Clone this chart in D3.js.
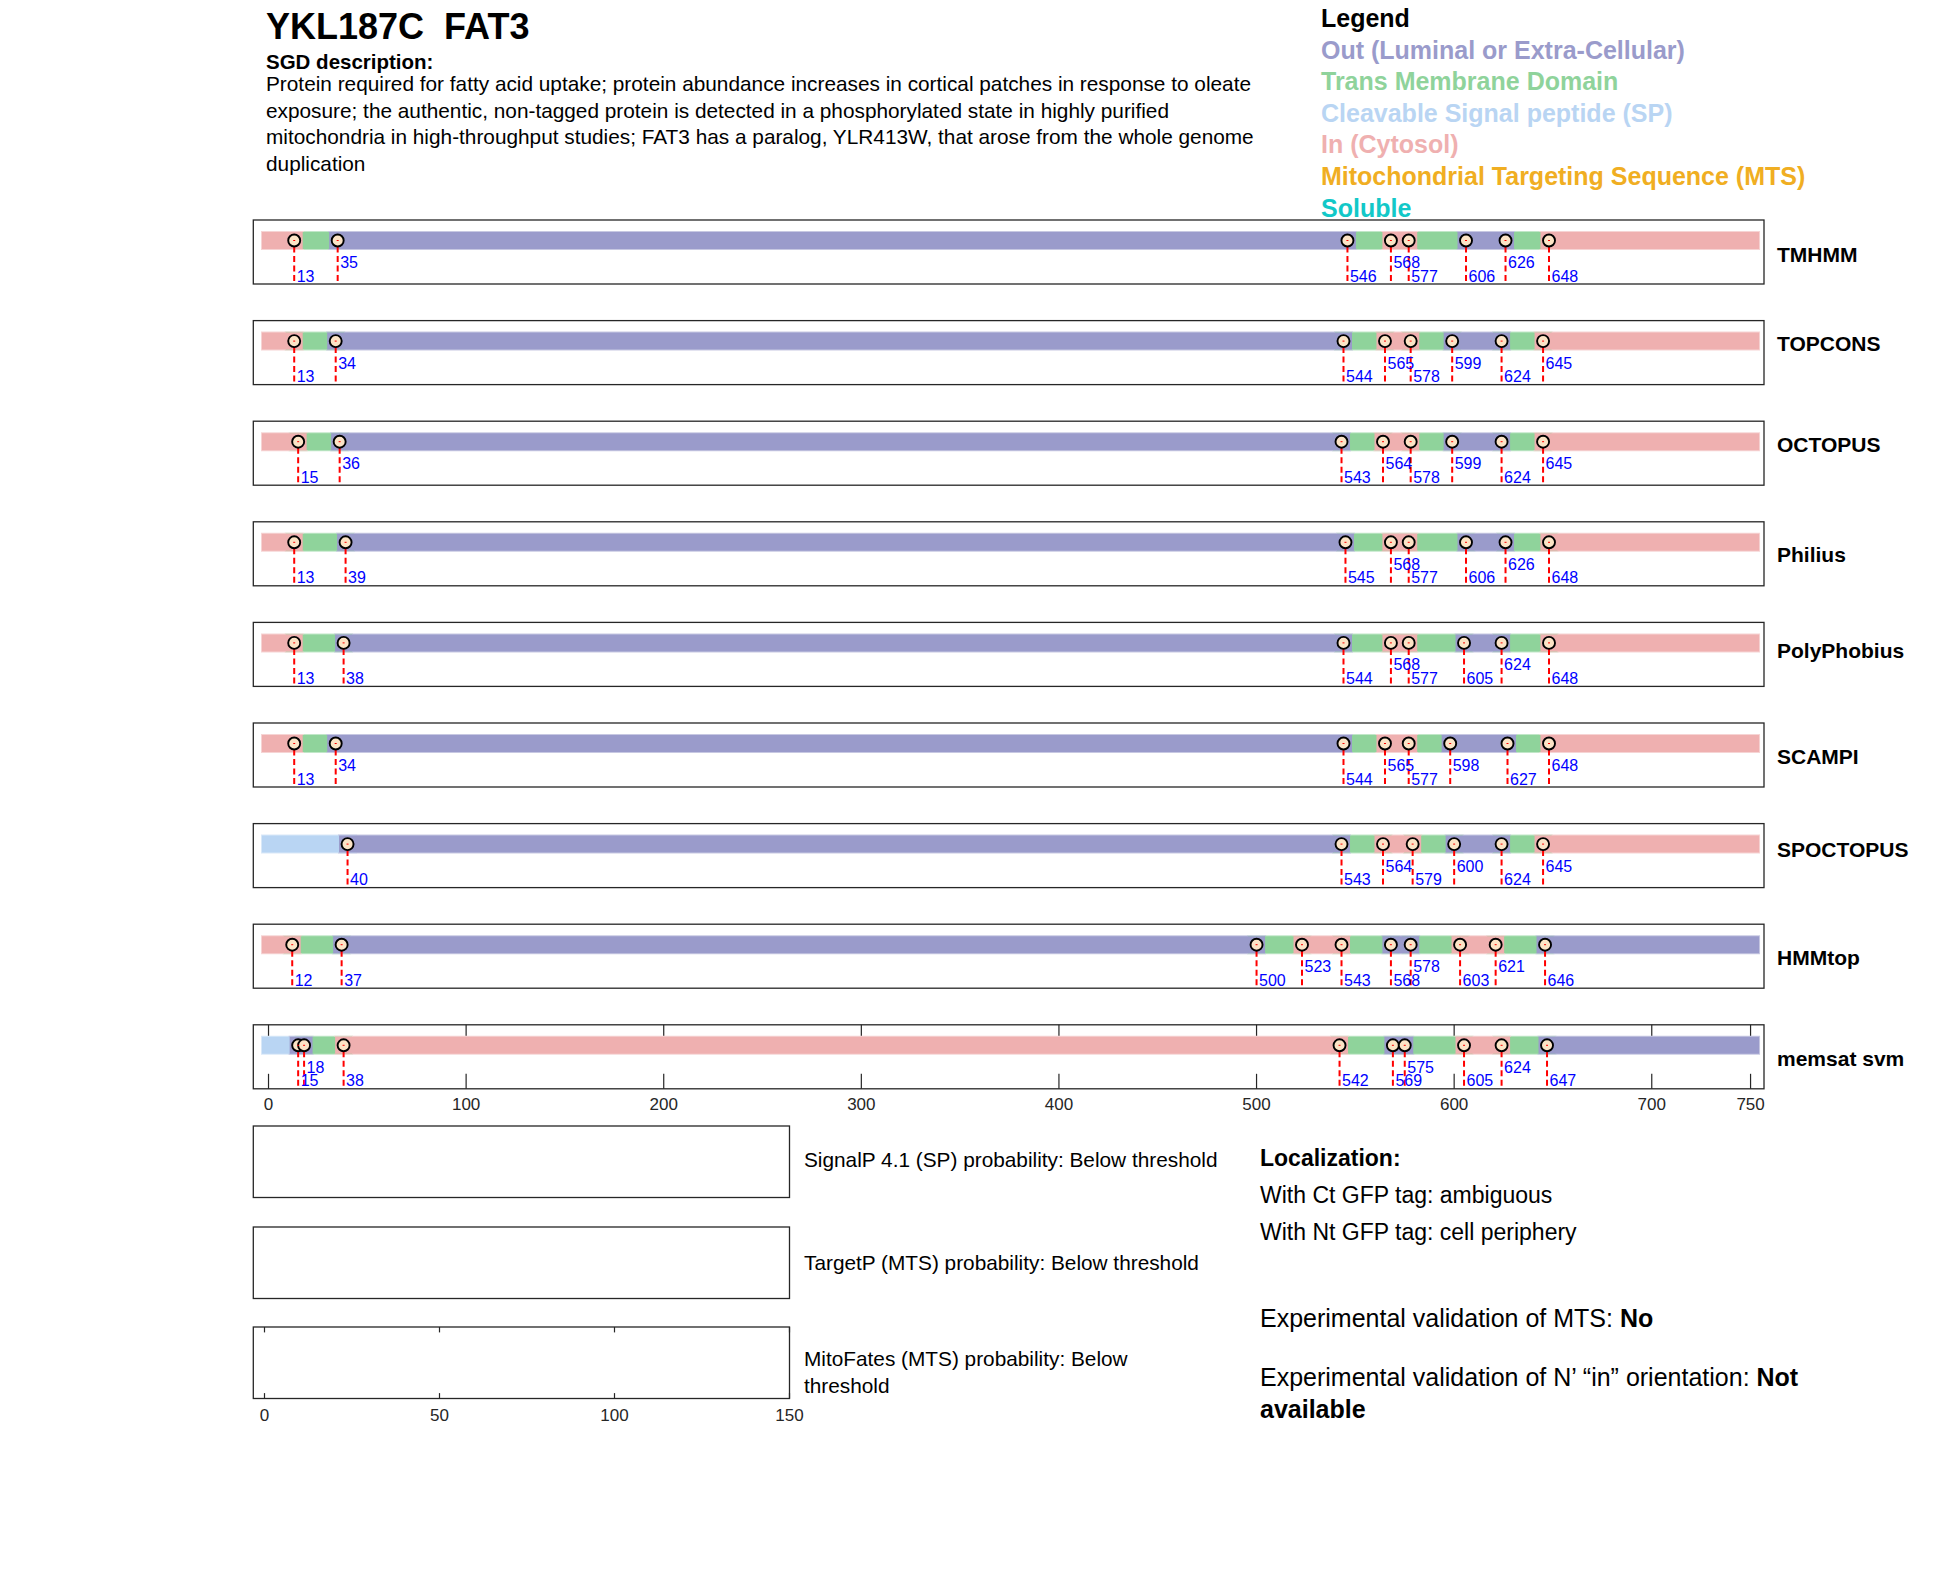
<!DOCTYPE html>
<html>
<head>
<meta charset="utf-8">
<script src="https://d3js.org/d3.v7.min.js"></script>
<style>
body { margin: 0; background: #fff; }
svg text { font-family: "Liberation Sans", Arial, sans-serif; }
.title { font-size: 36px; font-weight: bold; }
.sub { font-size: 20.5px; font-weight: bold; }
.desc { font-size: 20.8px; }
.legend { font-size: 25px; font-weight: bold; }
.track { font-size: 21px; font-weight: bold; }
.pos { font-size: 16px; fill: #0000ff; }
.tick { font-size: 17px; fill: #262626; }
.note { font-size: 20.8px; }
.loc { font-size: 23px; }
.exp { font-size: 25px; }
</style>
</head>
<body>
<div id="chart"></div>
<script>
// ---- data ----
var geneTitle = "YKL187C  FAT3";
var descLines = [
  "Protein required for fatty acid uptake; protein abundance increases in cortical patches in response to oleate",
  "exposure; the authentic, non-tagged protein is detected in a phosphorylated state in highly purified",
  "mitochondria in high-throughput studies; FAT3 has a paralog, YLR413W, that arose from the whole genome",
  "duplication"
];
var legendNames = ["Out (Luminal or Extra-Cellular)", "Trans Membrane Domain", "Cleavable Signal peptide (SP)",
                   "In (Cytosol)", "Mitochondrial Targeting Sequence (MTS)", "Soluble"];
var legendKeys = ["out", "tm", "sp", "in", "mts", "sol"];

var proteinLength = 750;
var trackNames = ["TMHMM", "TOPCONS", "OCTOPUS", "Philius", "PolyPhobius", "SCAMPI", "SPOCTOPUS", "HMMtop", "memsat svm"];

var tmhmmPos   = [13, 35, 546, 568, 577, 606, 626, 648];
var topconsPos = [13, 34, 544, 565, 578, 599, 624, 645];
var octopusPos = [15, 36, 543, 564, 578, 599, 624, 645];
var philiusPos = [13, 39, 545, 568, 577, 606, 626, 648];
var polyPos    = [13, 38, 544, 568, 577, 605, 624, 648];
var scampiPos  = [13, 34, 544, 565, 577, 598, 627, 648];
var spoctoPos  = [40, 543, 564, 579, 600, 624, 645];
var hmmtopPos  = [12, 37, 500, 523, 543, 568, 578, 603, 621, 646];
var memsatPos  = [15, 18, 38, 542, 569, 575, 605, 624, 647];

var topo8      = ["in", "tm", "out", "tm", "in", "tm", "out", "tm", "in"];
var spoctoTopo = ["sp", "out", "tm", "in", "tm", "out", "tm", "in"];
var hmmtopTopo = ["in", "tm", "out", "tm", "in", "tm", "out", "tm", "in", "tm", "out"];
var memsatTopo = ["sp", "out", "tm", "in", "tm", "out", "tm", "in", "tm", "out"];

var trackPos  = [tmhmmPos, topconsPos, octopusPos, philiusPos, polyPos, scampiPos, spoctoPos, hmmtopPos, memsatPos];
var trackTopo = [topo8, topo8, topo8, topo8, topo8, topo8, spoctoTopo, hmmtopTopo, memsatTopo];

var axisTicks = [0, 100, 200, 300, 400, 500, 600, 700, 750];
var probTicks = [0, 50, 100, 150];
var probNotes = [["SignalP 4.1 (SP) probability: Below threshold"],
                 ["TargetP (MTS) probability: Below threshold"],
                 ["MitoFates (MTS) probability: Below", "threshold"]];

var colors = { out: "#9a9bcb", tm: "#8fd39b", sp: "#b9d5f3", "in": "#efb0b0", mts: "#f0ae22", sol: "#12c8c8" };

// vertical nudge of the method names, as they sit in the picture
var nameShift = [0, -11, -11, -1, -6, -1, -8, -1, 0];

// ---- drawing ----
var svg = d3.select("#chart").append("svg")
    .attr("width", 1950).attr("height", 1573);

svg.append("text").attr("class", "title").attr("x", 266).attr("y", 39)
   .attr("xml:space", "preserve").text(geneTitle);
svg.append("text").attr("class", "sub").attr("x", 266).attr("y", 69).text("SGD description:");
svg.selectAll("text.desc").data(descLines).enter().append("text")
   .attr("class", "desc").attr("x", 266)
   .attr("y", function(d, i) { return 91 + i * 26.7; })
   .text(function(d) { return d; });

// legend
svg.append("text").attr("class", "legend").attr("x", 1321).attr("y", 26.5).attr("fill", "#000").text("Legend");
svg.selectAll("text.legitem").data(legendNames).enter().append("text")
   .attr("class", "legend").attr("x", 1321)
   .attr("y", function(d, i) { return 58.5 + i * 31.6; })
   .attr("fill", function(d, i) { return colors[legendKeys[i]]; })
   .text(function(d) { return d; });

// tracks
var x = d3.scaleLinear().domain([-7.7, 756.8]).range([253.3, 1764]);
var boxH = 64, barY = 20.5;
var drawOrder = { tm: 0, sp: 1, "in": 2, out: 2 };

trackNames.forEach(function(name, ti) {
  var g = svg.append("g").attr("transform", "translate(0," + (220 + ti * 100.6) + ")");
  var pos = trackPos[ti], topo = trackTopo[ti];

  g.append("rect").attr("x", x.range()[0]).attr("y", 0)
   .attr("width", x.range()[1] - x.range()[0]).attr("height", boxH)
   .attr("fill", "none").attr("stroke", "#262626").attr("stroke-width", 1.3);

  var isAxis = ti === trackNames.length - 1;
  if (isAxis) {
    axisTicks.forEach(function(t) {
      g.append("line").attr("x1", x(t)).attr("x2", x(t)).attr("y1", 0).attr("y2", 15)
       .attr("stroke", "#262626").attr("stroke-width", 1.2);
      g.append("line").attr("x1", x(t)).attr("x2", x(t)).attr("y1", boxH).attr("y2", boxH - 15)
       .attr("stroke", "#262626").attr("stroke-width", 1.2);
    });
    g.selectAll("text.tick").data(axisTicks).enter().append("text")
     .attr("class", "tick").attr("x", function(d) { return x(d); }).attr("y", boxH + 21.5)
     .attr("text-anchor", "middle").text(function(d) { return d; });
  }

  // segments
  var segs = topo.map(function(t, k) {
    return { t: t, s: k === 0 ? 1 : pos[k - 1], e: k === pos.length ? proteinLength : pos[k], k: k };
  });
  segs.sort(function(a, b) { return (drawOrder[a.t] - drawOrder[b.t]) || (a.k - b.k); });
  [[19, 0.45], [17, 0]].forEach(function(pass) {
    g.selectAll(null).data(segs).enter().append("line")
     .attr("x1", function(d) { return x(d.s); }).attr("x2", function(d) { return x(d.e); })
     .attr("y1", barY).attr("y2", barY)
     .attr("stroke", function(d) { return d3.interpolateRgb(colors[d.t], "#fff")(pass[1]); })
     .attr("stroke-width", pass[0]).attr("stroke-linecap", "square");
  });

  // label levels: flip when close to previous, else lower row
  var levels = [];
  pos.forEach(function(p, k) {
    if (k > 0 && p - pos[k - 1] < 25) levels.push(1 - levels[k - 1]);
    else levels.push(0);
  });

  g.selectAll("line.cut").data(pos).enter().append("line")
   .attr("x1", function(d) { return x(d); }).attr("x2", function(d) { return x(d); })
   .attr("y1", barY + 6).attr("y2", boxH)
   .attr("stroke", "#ff0000").attr("stroke-width", 2).attr("stroke-dasharray", "6,3.5");
  g.selectAll("circle").data(pos).enter().append("circle")
   .attr("cx", function(d) { return x(d); }).attr("cy", barY).attr("r", 6)
   .attr("fill", "#fce4c6").attr("stroke", "#000").attr("stroke-width", 1.9);
  g.selectAll("line.dot").data(pos).enter().append("line")
   .attr("x1", function(d) { return x(d) - 1; }).attr("x2", function(d) { return x(d) + 1; })
   .attr("y1", barY).attr("y2", barY)
   .attr("stroke", "#ff0000").attr("stroke-width", 1);
  g.selectAll("text.pos").data(pos).enter().append("text")
   .attr("class", "pos")
   .attr("x", function(d) { return x(d) + 2.5; })
   .attr("y", function(d, k) { return levels[k] ? 48 : 61.5; })
   .text(function(d) { return d; });

  g.append("text").attr("class", "track").attr("x", 1777).attr("y", 41.5 + nameShift[ti]).text(name);
});

// probability panels
var xp = d3.scaleLinear().domain([-3.2, 150]).range([253.3, 789.5]);
var panelTops = [1126, 1227, 1327], panelH = 71.5;
probNotes.forEach(function(lines, pi) {
  var top = panelTops[pi];
  svg.append("rect").attr("x", xp.range()[0]).attr("y", top)
     .attr("width", xp.range()[1] - xp.range()[0]).attr("height", panelH)
     .attr("fill", "none").attr("stroke", "#262626").attr("stroke-width", 1.3);
  var baseY = lines.length === 1 ? top + 41 + pi * 2 : top + 39;
  lines.forEach(function(l, li) {
    svg.append("text").attr("class", "note").attr("x", 804).attr("y", baseY + li * 27).text(l);
  });
  if (pi === probNotes.length - 1) {
    probTicks.forEach(function(t) {
      svg.append("line").attr("x1", xp(t)).attr("x2", xp(t)).attr("y1", top).attr("y2", top + 5.4)
         .attr("stroke", "#262626").attr("stroke-width", 1.2);
      svg.append("line").attr("x1", xp(t)).attr("x2", xp(t)).attr("y1", top + panelH).attr("y2", top + panelH - 5.4)
         .attr("stroke", "#262626").attr("stroke-width", 1.2);
    });
    svg.selectAll("text.ptick").data(probTicks).enter().append("text")
       .attr("class", "tick").attr("x", function(d) { return xp(d); }).attr("y", top + panelH + 22)
       .attr("text-anchor", "middle").text(function(d) { return d; });
  }
});

// localization notes
function richText(cls, xx, yy, parts) {
  var t = svg.append("text").attr("class", cls).attr("x", xx).attr("y", yy).attr("xml:space", "preserve");
  parts.forEach(function(p) {
    t.append("tspan").attr("font-weight", p[1] ? "bold" : "normal").text(p[0]);
  });
}
richText("loc", 1260, 1166, [["Localization:", true]]);
richText("loc", 1260, 1203, [["With Ct GFP tag: ambiguous", false]]);
richText("loc", 1260, 1240, [["With Nt GFP tag: cell periphery", false]]);
richText("exp", 1260, 1327, [["Experimental validation of MTS: ", false], ["No", true]]);
richText("exp", 1260, 1386, [["Experimental validation of N\u2019 \u201cin\u201d orientation: ", false], ["Not", true]]);
richText("exp", 1260, 1418, [["available", true]]);
</script>
</body>
</html>
